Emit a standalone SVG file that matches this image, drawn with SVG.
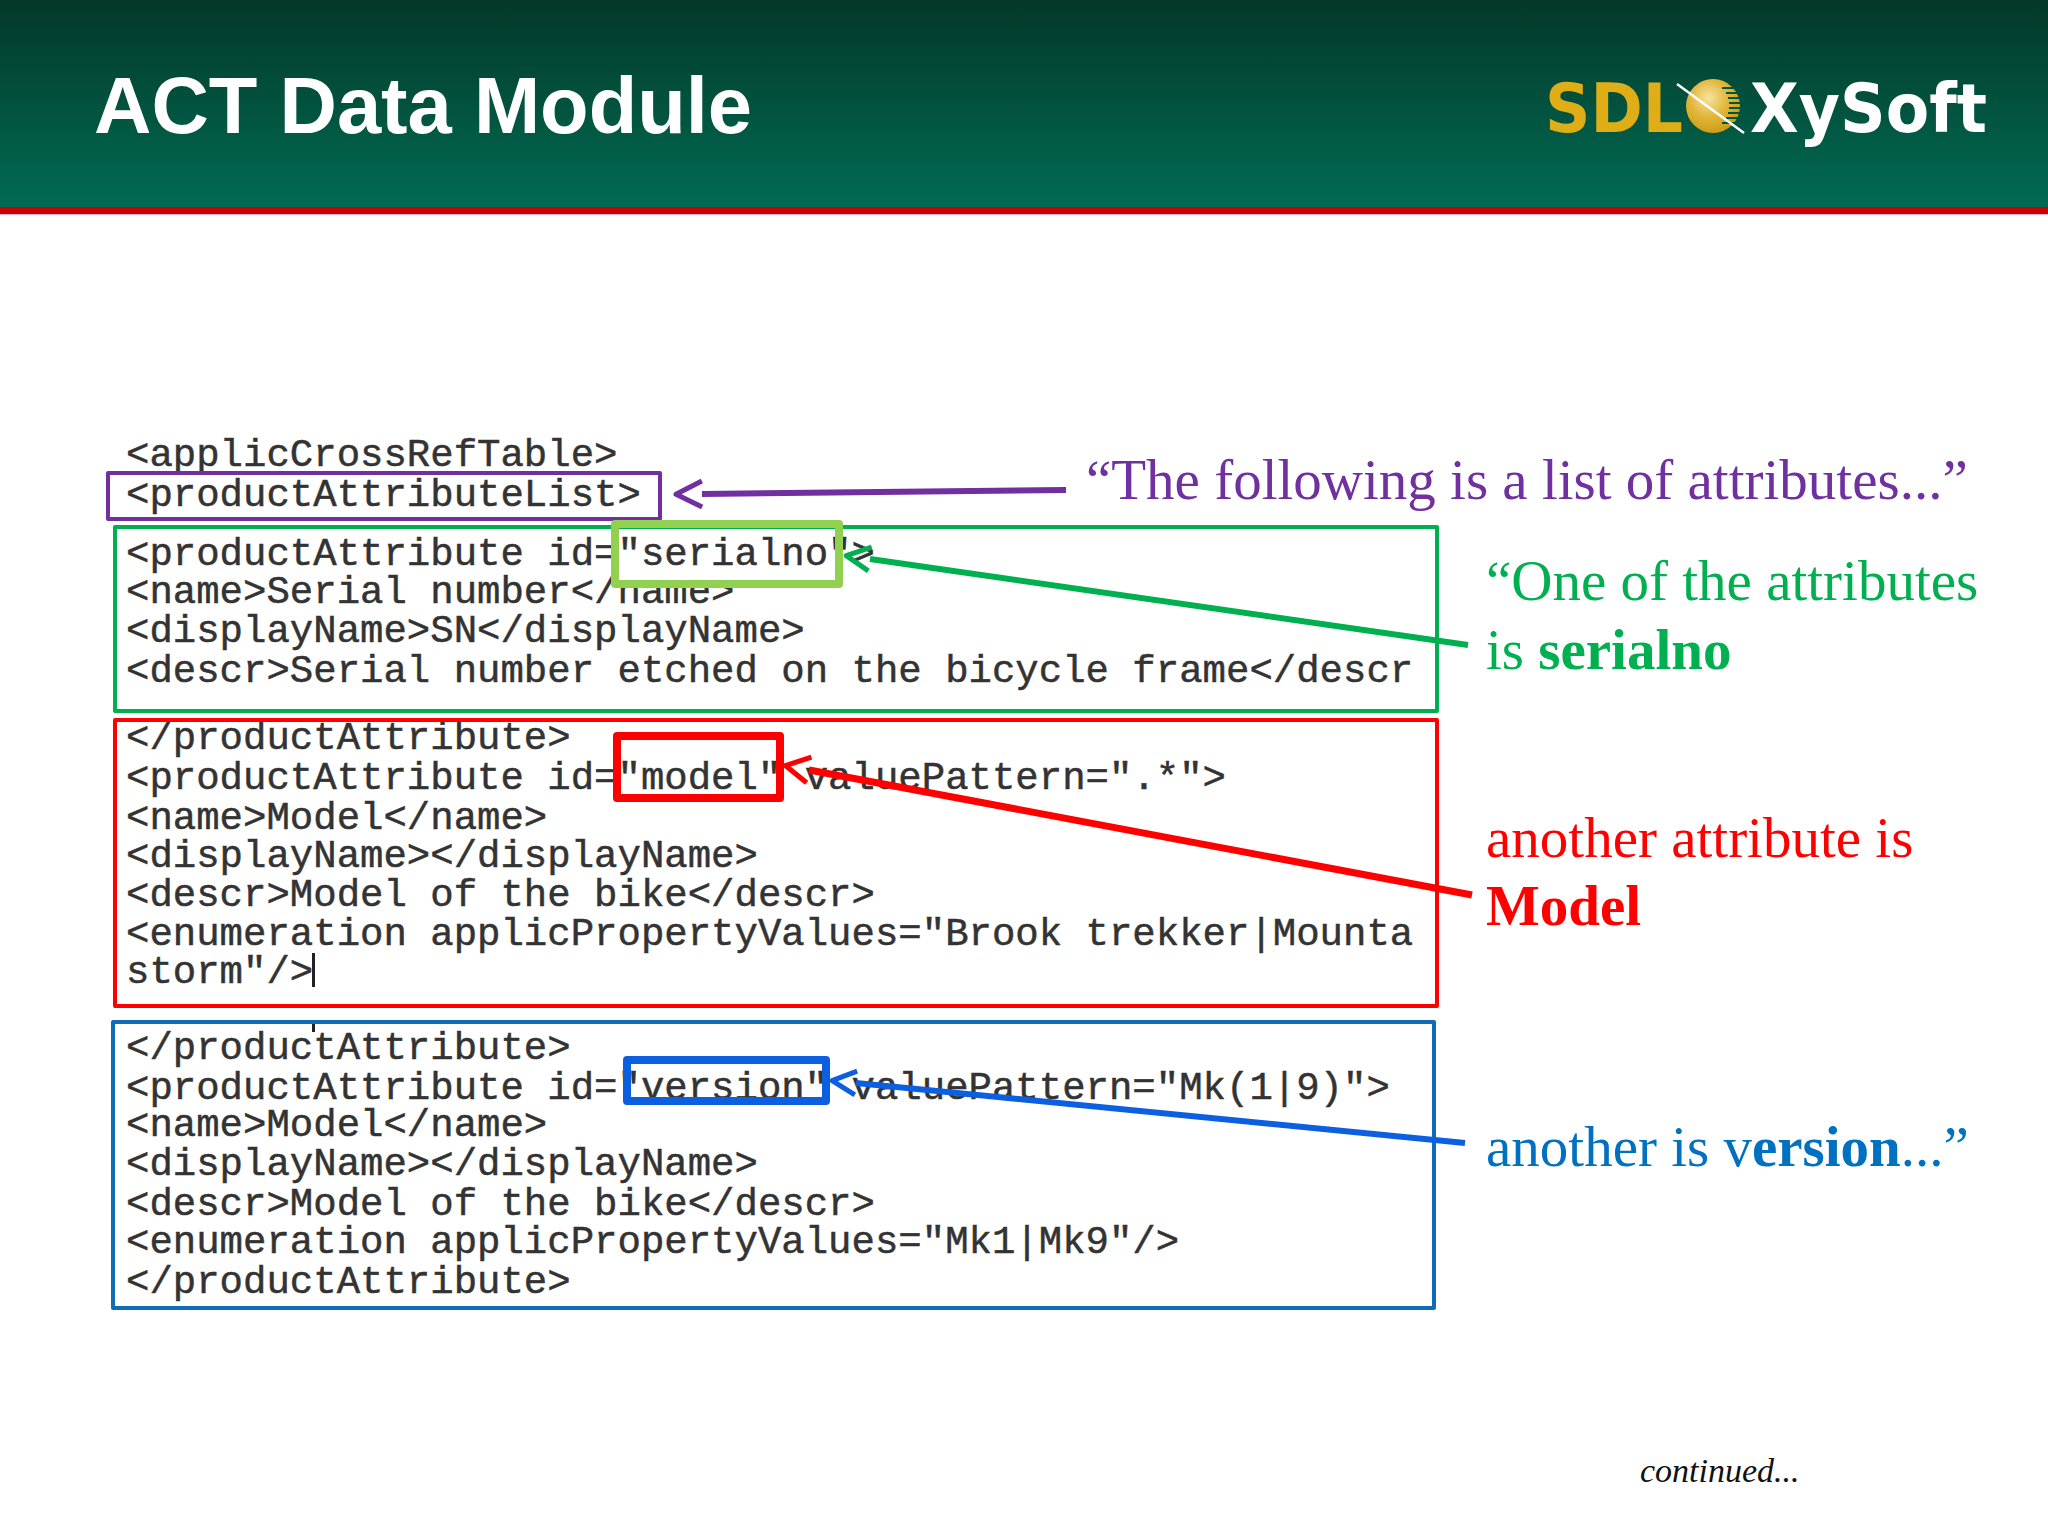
<svg xmlns="http://www.w3.org/2000/svg" width="2048" height="1536" viewBox="0 0 2048 1536">
<defs>
<linearGradient id="hdr" x1="0" y1="0" x2="0" y2="1"><stop offset="0" stop-color="#03382a"/><stop offset="1" stop-color="#016b52"/></linearGradient>
<radialGradient id="globe" cx="0.42" cy="0.35" r="0.7"><stop offset="0" stop-color="#f6e3a0"/><stop offset="0.5" stop-color="#e2b63a"/><stop offset="1" stop-color="#c99a10"/></radialGradient>
<marker id="mP" markerUnits="userSpaceOnUse" viewBox="-30 -16 34 32" markerWidth="34" markerHeight="32" refX="-26" refY="0" orient="auto"><path d="M-26 -13L0 0L-26 13" fill="none" stroke="#7030a0" stroke-width="5" stroke-linejoin="round"/></marker>
<marker id="mG" markerUnits="userSpaceOnUse" viewBox="-30 -16 34 32" markerWidth="34" markerHeight="32" refX="-24" refY="0" orient="auto"><path d="M-24 -12L0 0L-24 12" fill="none" stroke="#00b050" stroke-width="5" stroke-linejoin="round"/></marker>
<marker id="mR" markerUnits="userSpaceOnUse" viewBox="-30 -16 34 32" markerWidth="34" markerHeight="32" refX="-24" refY="0" orient="auto"><path d="M-24 -13L0 0L-24 13" fill="none" stroke="#ff0000" stroke-width="5" stroke-linejoin="round"/></marker>
<marker id="mB" markerUnits="userSpaceOnUse" viewBox="-30 -16 34 32" markerWidth="34" markerHeight="32" refX="-24" refY="0" orient="auto"><path d="M-24 -12L0 0L-24 12" fill="none" stroke="#0b5fe0" stroke-width="5" stroke-linejoin="round"/></marker>
</defs>
<style>
.code{font-family:"Liberation Mono",monospace;font-size:39px;fill:#333;stroke:#333;stroke-width:.5px}
.note{font-family:"Liberation Serif",serif;font-size:57px}
.box{fill:none;stroke-width:4;stroke-linejoin:round}
.hl{fill:none;stroke-width:8;stroke-linejoin:round}
.arrow{fill:none;stroke-linecap:butt}
.b{font-weight:bold}
</style>
<rect width="2048" height="1536" fill="#fff"/>
<g id="header">
<rect width="2048" height="207" fill="url(#hdr)"/>
<rect y="207" width="2048" height="7" fill="#cc0000"/>
<rect y="214" width="2048" height="1" fill="#f6b8c4"/>
<text x="94" y="133" font-family="Liberation Sans, sans-serif" font-weight="bold" font-size="79.5" fill="#fff">ACT Data Module</text>
</g>
<g id="logo">
<text x="1545" y="132" font-family="DejaVu Sans, sans-serif" font-weight="bold" font-size="68" fill="#dfae16" textLength="138" lengthAdjust="spacingAndGlyphs">SDL</text>
<circle cx="1713" cy="106" r="27" fill="url(#globe)"/>
<path d="M1722 88H1742M1726 93H1742M1728 98H1741M1729 103H1741M1729 108H1741M1728 113H1741M1726 118H1740M1722 123H1736" stroke="#03543f" stroke-width="1.8" fill="none"/>
<path d="M1677 84L1744 133" stroke="#fff" stroke-width="2.5"/>
<text x="1750" y="132" font-family="DejaVu Sans, sans-serif" font-weight="bold" font-size="68" fill="#fff" textLength="237" lengthAdjust="spacingAndGlyphs">XySoft</text>
</g>
<g id="code-list">
<text class="code" x="126" y="466">&lt;applicCrossRefTable&gt;</text>
<text class="code" x="126" y="506">&lt;productAttributeList&gt;</text>
<rect class="box" x="108" y="473" width="552" height="46" stroke="#7030a0"/>
</g>
<g id="code-serialno">
<text class="code" x="126" y="565">&lt;productAttribute id="serialno"&gt;</text>
<text class="code" x="126" y="603">&lt;name&gt;Serial number&lt;/name&gt;</text>
<text class="code" x="126" y="642">&lt;displayName&gt;SN&lt;/displayName&gt;</text>
<text class="code" x="126" y="682">&lt;descr&gt;Serial number etched on the bicycle frame&lt;/descr</text>
<rect class="box" x="115" y="527" width="1322" height="184" stroke="#00b050"/>
<rect class="hl" x="615" y="524" width="224" height="60" stroke="#92d050"/>
</g>
<g id="code-model">
<text class="code" x="126" y="749">&lt;/productAttribute&gt;</text>
<text class="code" x="126" y="789">&lt;productAttribute id="model" valuePattern=".*"&gt;</text>
<text class="code" x="126" y="829">&lt;name&gt;Model&lt;/name&gt;</text>
<text class="code" x="126" y="867">&lt;displayName&gt;&lt;/displayName&gt;</text>
<text class="code" x="126" y="906">&lt;descr&gt;Model of the bike&lt;/descr&gt;</text>
<text class="code" x="126" y="945">&lt;enumeration applicPropertyValues="Brook trekker|Mounta</text>
<text class="code" x="126" y="983">storm"/&gt;</text>
<rect x="312" y="953" width="3" height="34" fill="#222"/>
<rect class="box" x="115" y="720" width="1322" height="286" stroke="#ff0000"/>
<rect class="hl" x="617" y="736" width="163" height="62" stroke="#ff0000"/>
</g>
<g id="code-version">
<rect x="312" y="1023" width="3" height="9" fill="#222"/>
<text class="code" x="126" y="1059">&lt;/productAttribute&gt;</text>
<text class="code" x="126" y="1099">&lt;productAttribute id="version" valuePattern="Mk(1|9)"&gt;</text>
<text class="code" x="126" y="1136">&lt;name&gt;Model&lt;/name&gt;</text>
<text class="code" x="126" y="1175">&lt;displayName&gt;&lt;/displayName&gt;</text>
<text class="code" x="126" y="1215">&lt;descr&gt;Model of the bike&lt;/descr&gt;</text>
<text class="code" x="126" y="1253">&lt;enumeration applicPropertyValues="Mk1|Mk9"/&gt;</text>
<text class="code" x="126" y="1293">&lt;/productAttribute&gt;</text>
<rect class="box" x="113" y="1022" width="1321" height="286" stroke="#0f6db8"/>
<rect class="hl" x="627" y="1060" width="199" height="41" stroke="#0b5fe0"/>
</g>
<g id="connectors">
<line class="arrow" x1="1066" y1="490" x2="702" y2="494" stroke="#7030a0" stroke-width="6" marker-end="url(#mP)"/>
<line class="arrow" x1="1468" y1="645" x2="870" y2="559" stroke="#00b050" stroke-width="6" marker-end="url(#mG)"/>
<line class="arrow" x1="1472" y1="895" x2="809" y2="770" stroke="#ff0000" stroke-width="7" marker-end="url(#mR)"/>
<line class="arrow" x1="1465" y1="1143" x2="856" y2="1083" stroke="#0b5fe0" stroke-width="6" marker-end="url(#mB)"/>
</g>
<g id="notes">
<text class="note" x="1086" y="499" fill="#7030a0">“The following is a list of attributes...”</text>
<text class="note" x="1486" y="600" fill="#00b050">“One of the attributes</text>
<text class="note" x="1486" y="669" fill="#00b050">is <tspan class="b">serialno</tspan></text>
<text class="note" x="1486" y="857" fill="#ff0000">another attribute is</text>
<text class="note b" x="1486" y="925" fill="#ff0000">Model</text>
<text class="note" x="1486" y="1166" fill="#0070c0">another is v<tspan class="b">ersion</tspan>...”</text>
<text x="1640" y="1482" font-family="Liberation Serif, serif" font-style="italic" font-size="34" fill="#111">continued...</text>
</g>
</svg>
